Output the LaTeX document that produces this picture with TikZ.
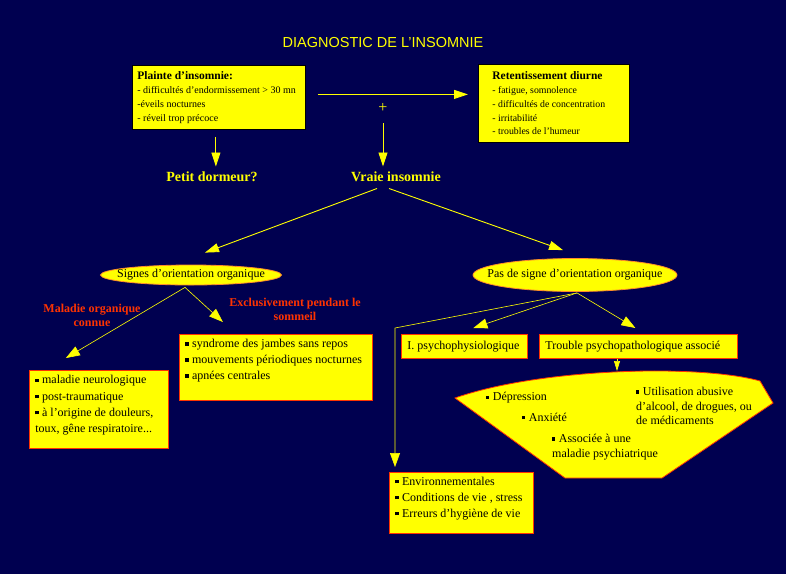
\documentclass[tikz,border=0pt]{standalone}
\usepackage{fontspec}
\setmainfont{Liberation Serif}
\newfontfamily\titrefont{Liberation Sans}
\usepackage{tikz}
\usetikzlibrary{arrows.meta}
\usetikzlibrary{shapes.geometric, calc}
\definecolor{fond}{RGB}{0,0,80}
\definecolor{jaune}{RGB}{255,255,0}
\definecolor{rouge}{RGB}{255,51,0}
\definecolor{orangeclair}{RGB}{255,140,40}
\newcommand{\puce}{\rule[2pt]{3.2pt}{3.2pt}\hspace{3.5pt}}
\newcommand{\cadre}[4]{\parbox[c][#2][#3]{#1}{\raggedright #4}}

\begin{document}
\begin{tikzpicture}[x=1pt, y=-1pt,
    boite/.style={draw=rouge, fill=jaune, line width=0.8pt, inner xsep=6pt, inner ysep=0pt, anchor=north west},
    bulle/.style={ellipse, draw=orangeclair, fill=jaune, line width=0.8pt, inner sep=0pt},
    etiquette/.style={text=jaune, font=\bfseries\fontsize{14}{16}\selectfont},
    rougetexte/.style={text=rouge, font=\bfseries\fontsize{12}{14}\selectfont, align=center},
    texte/.style={inner sep=0pt, anchor=west, align=left, font=\fontsize{12}{14.5}\selectfont},
    fleche/.style={draw=jaune, line width=0.9pt, -{Triangle[length=14pt, width=9pt]}},
    fine/.style={draw=jaune, line width=0.6pt, -{Triangle[length=14pt, width=10pt]}},
    petite/.style={draw=jaune, line width=0.6pt, -{Triangle[length=10pt, width=6pt]}}]

    % Fond
    \useasboundingbox (0,0) rectangle (786,574);
    \fill[fond] (0,0) rectangle (786,574);

    % Titre
    \node[text=jaune, font=\titrefont\fontsize{14.5}{16}\selectfont] (titre) at (383,43) {DIAGNOSTIC DE L’INSOMNIE};

    % Plainte et retentissement
    \node[boite, draw=black, inner xsep=5pt] (plainte) at (132,65) {\cadre{163pt}{64pt}{c}{\fontsize{10}{14}\selectfont
        {\bfseries\fontsize{11.5}{14}\selectfont Plainte d’insomnie:}\\
        - difficultés d'endormissement > 30 mn\\
        -éveils nocturnes\\
        - réveil trop précoce}};
    \node[boite, draw=black, inner xsep=5pt] (retent) at (478,64) {\cadre{141pt}{78pt}{c}{\leftskip=9pt\fontsize{9.8}{13.8}\selectfont
        {\bfseries\fontsize{11.5}{14}\selectfont Retentissement diurne}\\
        - fatigue, somnolence\\
        - difficultés de concentration\\
        - irritabilité\\
        - troubles de l'humeur}};
    \node[text=jaune, font=\fontsize{16}{16}\selectfont] (plus) at (383,108) {+};
    \node[etiquette] (petit) at (212,177) {Petit dormeur?};
    \node[etiquette] (vraie) at (396,177) {Vraie insomnie};

    \draw[fleche, shorten <=12pt, shorten >=10pt] ([yshift=3pt]plainte.east) -- ([yshift=3pt]plainte.east -| retent.west);
    \draw[fleche, shorten <=7pt, shorten >=2pt] ([xshift=-3pt]plainte.south) -- ([xshift=-3pt]plainte.south |- petit.north);
    \draw[fleche, shorten <=7pt, shorten >=2pt] (plus.south) -- (plus.south |- vraie.north);

    % Orientation organique
    \node[bulle, minimum width=181pt, minimum height=20pt,
        label={[font=\fontsize{12}{12}\selectfont]center:Signes d’orientation organique}] (signes) at (191,275) {};
    \node[bulle, minimum width=204pt, minimum height=33pt,
        label={[font=\fontsize{12}{12}\selectfont]center:Pas de signe d’orientation organique}] (pas) at (575,275) {};
    \draw[fleche] ([xshift=-19pt, yshift=-3pt]vraie.south) -- ([xshift=14pt, yshift=12pt]signes.north);
    \draw[fleche] ([xshift=-7pt, yshift=-3pt]vraie.south) -- ([xshift=-12pt, yshift=8pt]pas.north);

    \node[rougetexte] (connue) at (92,315) {Maladie organique\\connue};
    \node[rougetexte] (sommeil) at (295,309) {Exclusivement pendant le\\sommeil};

    \node[boite] (maladie) at (29,370) {\cadre{127pt}{78pt}{t}{\fontsize{12}{16.3}\selectfont\vspace*{2pt}\strut
        \puce maladie neurologique\\
        \puce post-traumatique\\
        \puce à l’origine de douleurs,\\
        toux, gêne respiratoire...}};
    \node[boite] (syndrome) at (179,334) {\cadre{181pt}{66pt}{t}{\fontsize{12}{16}\selectfont\vspace*{2pt}\strut
        \puce syndrome des jambes sans repos\\
        \puce mouvements périodiques nocturnes\\
        \puce apnées centrales}};
    \draw[fine] ([xshift=-6pt, yshift=-2pt]signes.south) -- ([xshift=-33pt, yshift=12pt]maladie.north);
    \draw[fine] ([xshift=-6pt, yshift=-2pt]signes.south) -- ([xshift=-53pt, yshift=12pt]syndrome.north);

    % Pas de signe organique
    \node[boite] (psycho) at (401,334) {\cadre{114pt}{24pt}{c}{\fontsize{12}{14}\selectfont I. psychophysiologique}};
    \node[boite] (trouble) at (539,334) {\cadre{186pt}{24pt}{c}{\fontsize{12}{14}\selectfont Trouble psychopathologique associé}};
    \node[boite] (env) at (389,472) {\cadre{132pt}{61pt}{t}{\fontsize{12}{16}\selectfont\vspace*{1.5pt}\strut
        \puce Environnementales\\
        \puce Conditions de vie , stress\\
        \puce Erreurs d’hygiène de vie}};
    \draw[fine] ([xshift=2pt, yshift=-1pt]pas.south) -- ([xshift=9pt, yshift=6pt]psycho.north);
    \draw[fine] ([xshift=2pt, yshift=-1pt]pas.south) -- ([xshift=-3pt, yshift=6pt]trouble.north);
    \draw[fine] ([xshift=2pt, yshift=-1pt]pas.south) -- ($(env.north west |- psycho.north)+(6,-6)$) -- ([xshift=6pt, yshift=5pt]env.north west);

    % Troubles psychopathologiques
    \draw[draw=rouge, fill=jaune, line width=0.8pt] (455,398) .. controls (540,368) and (700,364) .. (760,381)
        -- (773,403) -- (662,478) -- (565,478) -- cycle;
    \coordinate (sommet) at (617,371);
    \draw[petite] (trouble.south -| sommet) -- (sommet);
    \node[texte] (depression) at (486,398) {\puce Dépression};
    \node[texte] (anxiete) at (522,417) {\puce Anxiété};
    \node[texte] (associee) at (552,447) {\puce Associée à une\\maladie psychiatrique};
    \node[texte] (abus) at (636,406) {\puce Utilisation abusive\\d’alcool, de drogues, ou\\de médicaments};
\end{tikzpicture}
\end{document}
